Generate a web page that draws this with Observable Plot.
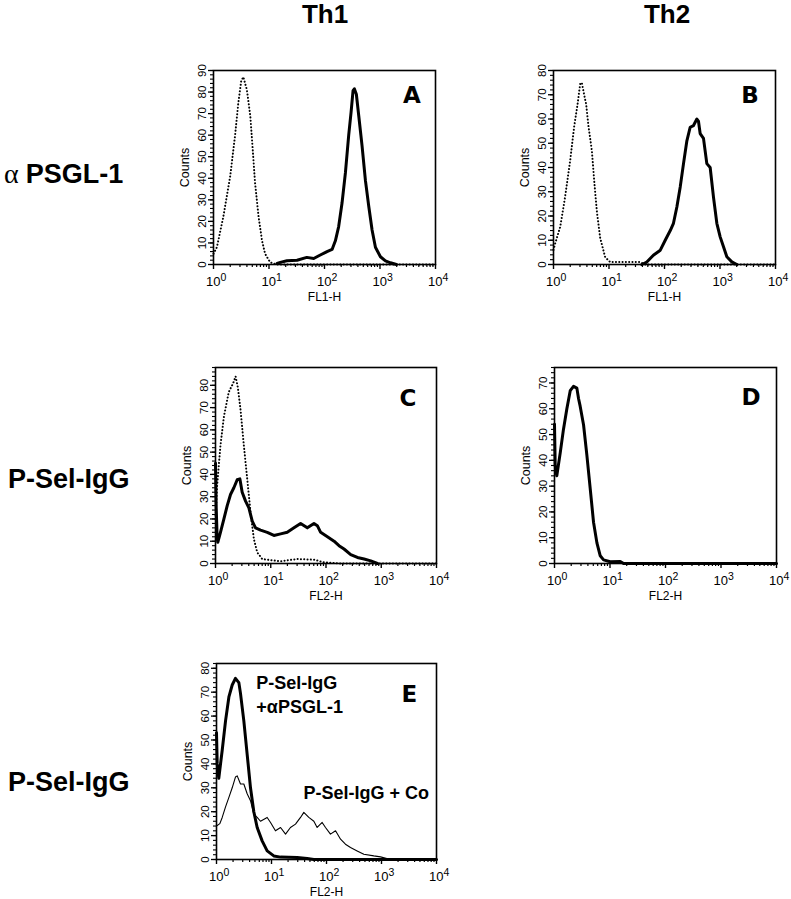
<!DOCTYPE html>
<html>
<head>
<meta charset="utf-8">
<script src="https://cdn.jsdelivr.net/npm/d3@7"></script>
<script src="https://cdn.jsdelivr.net/npm/@observablehq/plot@0.6"></script>
<style>
  html, body { margin: 0; padding: 0; background: #fff; }
  #fig { position: relative; width: 791px; height: 899px; overflow: hidden; background: #fff;
         font-family: "Liberation Sans", Arial, Helvetica, sans-serif; }
  #fig > svg.overlay { position: absolute; left: 0; top: 0; }
  .panel { position: absolute; }
  .panel svg { overflow: visible; }
</style>
</head>
<body>
<div id="fig"></div>
<script>
// ---------------- data ----------------
const columnLabels = ["Th1", "Th2"];
const rowLabels = ["PSGL-1", "P-Sel-IgG", "P-Sel-IgG"];
const panelLetters = ["A", "B", "C", "D", "E"];
const axisLabels = ["FL1-H", "FL1-H", "FL2-H", "FL2-H", "FL2-H"];
const yLabel = "Counts";
const xTickValues = [1, 10, 100, 1000, 10000];
const xTickExponents = ["0", "1", "2", "3", "4"];
const yMax = [90, 80, 88, 76, 82];

// Panel A (Th1, anti-PSGL-1)
const aIsoX = [1.0, 1.15, 1.5, 2.0, 2.45, 2.8, 3.15, 3.45, 4.0, 4.6, 5.1, 5.6, 6.5, 7.5, 8.5, 10.5, 14, 10000];
const aIsoY = [5, 8, 22, 41, 60, 75, 85, 87, 81, 69, 53, 38, 22, 11, 5, 1, 0, 0];
const aStainX = [14, 16, 21, 32, 48, 64, 84, 111, 137, 157, 180, 207, 238, 273, 301, 327, 345, 375, 414, 475, 546, 627, 720, 827, 1018, 1253, 1542, 1978];
const aStainY = [0.5, 1, 1.7, 2, 3.3, 2.8, 4.4, 6, 7, 11, 17.6, 28.5, 42.5, 60, 70.6, 80.7, 81.5, 79, 69, 55, 39, 27, 16, 8, 3.6, 1.7, 0.8, 0];

// Panel B (Th2, anti-PSGL-1)
const bIsoX = [1.0, 1.07, 1.32, 1.62, 2.0, 2.36, 2.71, 3.02, 3.24, 3.57, 3.88, 4.27, 4.91, 5.48, 6.04, 6.93, 8.53, 10.5, 20, 36, 45, 10000];
const bIsoY = [6, 8.6, 15.5, 28, 43, 57, 66, 74.5, 75, 70, 66, 57, 47, 33, 22, 11, 3, 1, 1, 1, 0, 0];
const bStainX = [39, 48, 63, 84, 103, 127, 145, 167, 192, 220, 253, 290, 333, 383, 410, 439, 504, 579, 665, 763, 877, 1007, 1156, 1328, 1634, 2011];
const bStainY = [0, 1, 3.8, 5.9, 10, 14, 17, 23.7, 32, 41.6, 51, 56.6, 57.3, 60, 59, 54, 52, 41.6, 40, 27.8, 17, 11.4, 7.3, 3.2, 1.1, 0];

// Panel C (Th1, P-Sel-IgG)
const cIsoX = [1.0, 1.07, 1.23, 1.42, 1.74, 2.09, 2.31, 2.54, 2.84, 3.26, 3.75, 4.31, 4.95, 5.69, 7.01, 15, 30, 61, 92, 184, 10000];
const cIsoY = [20, 35, 53, 66, 77, 81, 84, 79, 69, 53, 38, 23, 11, 5, 2, 1, 2, 1.7, 0.5, 0, 0];
const cStainX = [1.0, 1.03, 1.07, 1.10, 1.23, 1.42, 1.63, 1.87, 2.15, 2.47, 2.76, 3.04, 3.50, 4.02, 4.62, 5.31, 6.54, 8.64, 11.4, 15.1, 19.9, 26.3, 34.7, 45.9, 60.6, 69.7, 80, 106, 140, 172, 212, 280, 370, 489, 646, 853];
const cStainY = [45, 25, 12, 9.5, 14, 20, 26, 31, 34, 37.6, 38, 32, 28, 25, 19, 16, 15, 14, 12.6, 13.3, 14, 16, 18, 16, 18, 17, 14, 12, 10, 8, 6.5, 4, 2.7, 2, 1.2, 0];

// Panel D (Th2, P-Sel-IgG)
const dStainX = [1.0, 1.03, 1.10, 1.27, 1.45, 1.67, 1.92, 2.20, 2.53, 2.71, 2.90, 3.34, 3.83, 4.40, 5.05, 5.81, 6.67, 7.66, 10.1, 15.3, 17.6, 10000];
const dStainY = [54, 38, 34, 43, 52, 60, 67, 68.7, 68, 64, 61, 53.7, 42, 29, 16, 8, 3, 1.4, 0.7, 0.8, 0, 0];

// Panel E (Th1, P-Sel-IgG + anti-PSGL-1 vs + control)
const eBlockX = [1.0, 1.03, 1.10, 1.27, 1.46, 1.68, 1.93, 2.21, 2.55, 2.73, 3.14, 3.61, 4.15, 4.77, 5.49, 6.76, 8.34, 11.0, 14.6, 29.3, 44.5, 58.9, 10000];
const eBlockY = [53, 40, 34, 45.7, 58, 68, 73, 75.8, 74, 69.5, 58, 44, 30, 20, 13.4, 7.8, 3.6, 1.5, 1, 0.8, 0.4, 0, 0];
const eCoX = [1.0, 1.15, 1.27, 1.46, 1.68, 1.93, 2.21, 2.38, 2.73, 3.14, 3.61, 4.15, 4.77, 5.49, 6.31, 8.34, 9.6, 11.8, 14.6, 18.0, 22.1, 27.3, 33.7, 38.7, 47.7, 58.9, 67.6, 83.4, 95.9, 118, 146, 180, 221, 273, 361, 477, 726, 959, 1458];
const eCoY = [14, 15, 17.6, 22, 26, 30, 34.5, 35, 31.6, 31.6, 27.5, 24.6, 19, 17.6, 16, 17.6, 15.5, 12, 13.4, 10.6, 13.4, 14.8, 17.6, 19.7, 17.6, 16, 13.4, 15.5, 13.4, 10.6, 12, 8.5, 6.4, 5, 3.6, 2.2, 1.5, 1.1, 0];

// annotation texts inside panel E and their data-space anchors
const eNotes = ["P-Sel-IgG", "+αPSGL-1", "P-Sel-IgG + Co"];
const eNoteX = [5.3, 5.3, 38];
const eNoteY = [71.5, 61.5, 25.5];
// panel letter anchors (data space)
const letterX = [2600, 2420, 2150, 2350, 2300];
const letterY = [74.7, 66.4, 70.9, 61.3, 65.7];

// ---------------- layout / style ----------------
const FONT = "'Liberation Sans', Arial, Helvetica, sans-serif";
const frames = [
  {left: 213, top: 70, w: 222, h: 194},
  {left: 553, top: 70, w: 222, h: 194},
  {left: 215, top: 367, w: 221, h: 196},
  {left: 554, top: 367, w: 222, h: 196},
  {left: 216, top: 663, w: 220, h: 196}
];
const M = {l: 60, t: 12, r: 14, b: 48};

const zip = (xs, ys) => xs.map((x, i) => ({x, y: ys[i]}));
const bold = d => Plot.line(d, {x: "x", y: "y", stroke: "black", strokeWidth: 3, strokeLinejoin: "round"});
const thin = d => Plot.line(d, {x: "x", y: "y", stroke: "black", strokeWidth: 1.1});
const dotted = d => Plot.line(d, {x: "x", y: "y", stroke: "black", strokeWidth: 2, strokeDasharray: "0.1 3.2", strokeLinecap: "round"});

const seriesPerPanel = [
  [dotted(zip(aIsoX, aIsoY)), bold(zip(aStainX, aStainY))],
  [dotted(zip(bIsoX, bIsoY)), bold(zip(bStainX, bStainY))],
  [dotted(zip(cIsoX, cIsoY)), bold(zip(cStainX, cStainY))],
  [bold(zip(dStainX, dStainY))],
  [thin(zip(eCoX, eCoY)), bold(zip(eBlockX, eBlockY))]
];

const minorX = [];
for (let k = 0; k < 4; k++) for (let m = 2; m <= 9; m++) minorX.push(m * Math.pow(10, k));
const expOf = d => xTickExponents[xTickValues.indexOf(d)];

const fig = document.getElementById("fig");

// headers and row labels
const ns = "http://www.w3.org/2000/svg";
const ov = document.createElementNS(ns, "svg");
ov.setAttribute("class", "overlay");
ov.setAttribute("width", 791);
ov.setAttribute("height", 899);
function addText(parent, txt, x, y, opts = {}) {
  const t = document.createElementNS(ns, "text");
  t.setAttribute("x", x); t.setAttribute("y", y);
  t.setAttribute("font-family", opts.family || FONT);
  t.setAttribute("font-size", opts.size || 26);
  t.setAttribute("font-weight", opts.weight || "bold");
  t.setAttribute("text-anchor", opts.anchor || "start");
  t.textContent = txt;
  parent.appendChild(t);
  return t;
}
addText(ov, columnLabels[0], 325, 23, {anchor: "middle", size: 26});
addText(ov, columnLabels[1], 667, 23, {anchor: "middle", size: 26});
{
  const t = addText(ov, "", 4, 183, {size: 27});
  const a = document.createElementNS(ns, "tspan");
  a.setAttribute("font-family", "'Liberation Serif', 'DejaVu Serif', serif");
  a.setAttribute("font-weight", "normal");
  a.setAttribute("font-size", 28);
  a.textContent = "α ";
  const b = document.createElementNS(ns, "tspan");
  b.textContent = rowLabels[0];
  t.appendChild(a); t.appendChild(b);
}
addText(ov, rowLabels[1], 8, 488, {size: 27});
addText(ov, rowLabels[2], 8, 791, {size: 27});
fig.appendChild(ov);

frames.forEach((f, i) => {
  const ymax = yMax[i];
  const marks = [
    ...seriesPerPanel[i],
    Plot.frame({stroke: "black", strokeWidth: 1.6}),
    Plot.axisX(minorX, {tickSize: 3, tickFormat: () => "", label: null, strokeWidth: 1.2}),
    Plot.axisX(xTickValues, {tickSize: 5, tickFormat: () => "", label: null, strokeWidth: 1.4}),
    Plot.axisX(xTickValues, {tickSize: 0, tickPadding: 12, tickFormat: expOf, label: null, fontSize: 13}),
    Plot.axisY(d3.range(0, ymax + 0.01, 2), {tickSize: 3, tickFormat: () => "", label: null, strokeWidth: 1.1}),
    Plot.axisY(d3.range(0, ymax + 0.01, 10), {tickSize: 5, tickRotate: -90, tickPadding: 3, label: null, fontSize: 11.5, strokeWidth: 1.3}),
    Plot.text([axisLabels[i]], {text: d => d, frameAnchor: "bottom", dy: 28, lineAnchor: "top", fontSize: 12}),
    Plot.text([yLabel], {text: d => d, frameAnchor: "left", rotate: -90, dx: -25, lineAnchor: "bottom", textAnchor: "middle", fontSize: 12.5}),
    Plot.text([panelLetters[i]], {x: [letterX[i]], y: [letterY[i]], text: d => d, textAnchor: "start", lineAnchor: "bottom", fontSize: 23, fontWeight: 900, fontFamily: "'DejaVu Sans', sans-serif"})
  ];
  if (i === 4) {
    marks.push(Plot.text(eNotes, {x: eNoteX, y: eNoteY, text: d => d, textAnchor: "start", lineAnchor: "bottom", fontSize: 18, fontWeight: "bold"}));
  }
  const svg = Plot.plot({
    width: f.w + M.l + M.r,
    height: f.h + M.t + M.b,
    marginLeft: M.l, marginRight: M.r, marginTop: M.t, marginBottom: M.b,
    style: {fontFamily: FONT, background: "transparent", color: "black", overflow: "visible"},
    x: {type: "log", domain: [1, 10000]},
    y: {domain: [0, ymax]},
    marks
  });
  // superscript exponents on x tick labels: 10^n ; drop empty labels of tick-only axes
  d3.select(svg).selectAll('g[aria-label="x-axis tick label"] text').each(function () {
    const e = this.textContent;
    if (e === "") { this.remove(); return; }
    this.textContent = "";
    this.setAttribute("text-anchor", "start");
    this.setAttribute("x", -7.5);
    const s = d3.select(this);
    s.append("tspan").text("10");
    s.append("tspan").attr("dy", "-0.42em").attr("font-size", "10.5px").text(e);
  });
  d3.select(svg).selectAll('g[aria-label="y-axis tick label"] text').each(function () {
    if (this.textContent === "") this.remove();
  });
  const wrap = document.createElement("div");
  wrap.className = "panel";
  wrap.style.left = (f.left - M.l) + "px";
  wrap.style.top = (f.top - M.t) + "px";
  wrap.appendChild(svg);
  fig.appendChild(wrap);
});
</script>
</body>
</html>
